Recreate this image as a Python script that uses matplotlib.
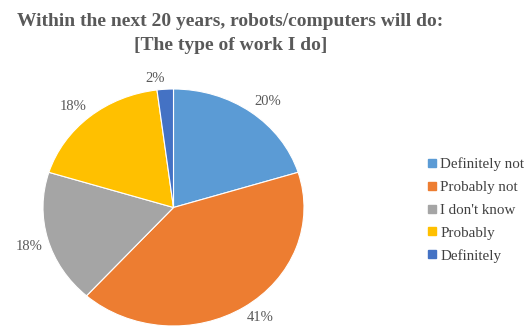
import numpy as np
import matplotlib
matplotlib.use("Agg")
import matplotlib.pyplot as plt
from matplotlib.lines import Line2D

categories = ["Definitely not", "Probably not", "I don't know", "Probably", "Definitely"]
shares = [20, 41, 18, 18, 2]
colors = ["#5B9BD5", "#ED7D31", "#A5A5A5", "#FFC000", "#4472C4"]

plt.rcParams["font.family"] = ["Liberation Serif", "DejaVu Serif"]

fig = plt.figure(figsize=(5.31, 3.27), dpi=100)
W, H = 531, 327

# pie box in pixels (left, top, right, bottom)
px0, py0, px1, py1 = 43, 89, 304, 326
ax = fig.add_axes([px0 / W, (H - py1) / H, (px1 - px0) / W, (py1 - py0) / H])

wedges, _ = ax.pie(shares, colors=colors, startangle=90, counterclock=False,
                   wedgeprops=dict(edgecolor="white", linewidth=0.8))
ax.set_aspect("auto")
ax.set_xlim(-1, 1)
ax.set_ylim(-1, 1)

# percentage labels sitting just outside the slice edge
for w, v in zip(wedges, shares):
    mid = np.deg2rad((w.theta1 + w.theta2) / 2)
    c, s = np.cos(mid), np.sin(mid)
    r = 1.04
    ax.text(r * c, r * s, f"{v}%", fontsize=10.5, color="#595959",
            ha="left" if c > 0 else "right", va="bottom" if s > 0 else "top")

fig.text(230 / W, 1 - 22 / H, "Within the next 20 years, robots/computers will do:",
         ha="center", va="center", fontsize=14, fontweight="bold", color="#595959")
fig.text(231 / W, 1 - 45 / H, "[The type of work I do]",
         ha="center", va="center", fontsize=14, fontweight="bold", color="#595959")

handles = [Line2D([], [], marker="s", linestyle="", markersize=6, color=c) for c in colors]
fig.legend(handles, categories, loc="center left", bbox_to_anchor=(417 / W, 1 - 210 / H),
           frameon=False, fontsize=10.8, labelspacing=0.62, handletextpad=0.05,
           handlelength=1.0, labelcolor="#404040", borderpad=0)

fig.savefig("out.png", dpi=100)
